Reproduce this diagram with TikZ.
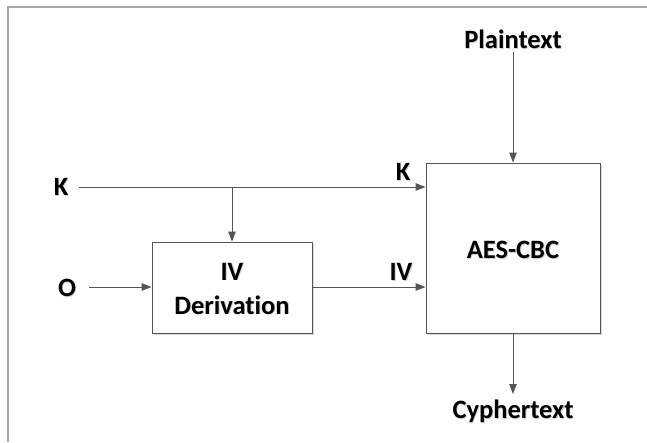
\documentclass[tikz,border=0pt]{standalone}
\usepackage{fontspec}
\setmainfont{Carlito}[Ligatures=CommonOff]
\usetikzlibrary{arrows.meta,shadows}
\definecolor{linegray}{HTML}{555555}
\definecolor{framegray}{HTML}{A6A6A6}
% bold text with a faint gray shadow behind it
\newcommand{\shtext}[1]{\leavevmode\rlap{\hspace{0.9pt}\raisebox{-0.9pt}{\color{black!20}#1}}#1}
\begin{document}
\begin{tikzpicture}[x=1pt,y=-1pt,
  lbl/.style={font=\fontsize{26.5}{30}\selectfont\bfseries, inner sep=0pt},
  blk/.style={draw=linegray, line width=0.9pt, fill=white, inner sep=0pt,
              drop shadow={shadow xshift=2pt, shadow yshift=-2pt, fill=black!15, opacity=1}},
  wire/.style={draw=linegray, line width=0.9pt},
  arr/.style={wire, -{Triangle[length=10pt,width=7.5pt]}}]
  \useasboundingbox (0,0) rectangle (647,442);
  % outer frame (top and left edges)
  \draw[framegray, line width=1.8pt] (8,442) -- (8,7) -- (647,7);

  % blocks
  \node[blk, minimum width=174pt, minimum height=170pt] (aes) at (513,248) {};
  \node[lbl] at (513,250) {\shtext{AES-CBC}};
  \node[blk, minimum width=160pt, minimum height=91pt] (ivd) at (232,287.5) {};
  \node[lbl, align=center] at (232,289) {\shtext{IV}\\[4pt]\shtext{Derivation}};

  % terminals
  \node[lbl] (pt) at (513,40) {\shtext{Plaintext}};
  \node[lbl] (ct) at (513,412) {\shtext{Cyphertext}};
  \node[lbl] (k) at (61,187) {\shtext{K}};
  \node[lbl] (o) at (67,288) {\shtext{O}};
  \node[lbl] (klbl) at (403,172) {\shtext{K}};
  \node[lbl] (ivlbl) at (401,272) {\shtext{IV}};

  \coordinate (kstart) at (79,187);
  \coordinate (kbranch) at (232,187);
  \coordinate (ostart) at (89,287);
  \coordinate (ptend) at (513,52);
  \coordinate (ctend) at (513,394);

  % connectors
  \draw[arr] (kstart) -- (kstart -| aes.west);
  \draw[arr] (kbranch) -- (ivd.north);
  \draw[arr] (ostart) -- (ostart -| ivd.west);
  \draw[arr] (ivd.east |- 0,287) -- (aes.west |- 0,287);
  \draw[arr] (ptend) -- (aes.north);
  \draw[arr] (aes.south) -- (ctend);
\end{tikzpicture}
\end{document}
